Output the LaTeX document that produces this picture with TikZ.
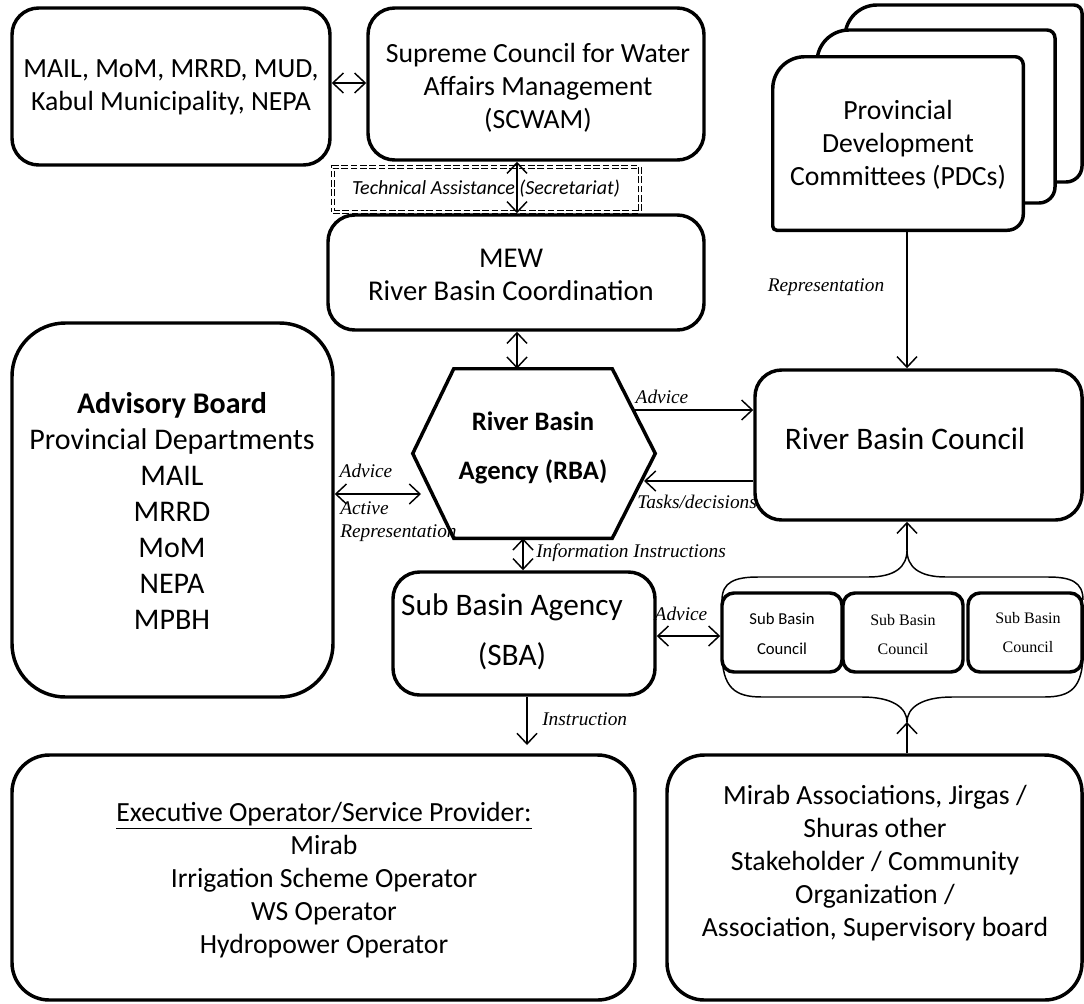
\documentclass[tikz,border=0pt]{standalone}
\usepackage{fontspec}
\setmainfont{Carlito}
\newfontfamily\lserif{Liberation Serif}
\usetikzlibrary{arrows.meta,calc}
\begin{document}
\begin{tikzpicture}[x=0.75pt,y=-0.75pt,
  >={Straight Barb[length=8pt,width=15pt]},
  box/.style={draw, line width=2.6pt, rounded corners=20pt, inner sep=0pt, fill=white},
  card/.style={draw, line width=2.6pt, fill=white},
  txt/.style={align=center, inner sep=0pt, font=\fontsize{20.8}{24.75}\selectfont},
  lbl/.style={font=\lserif\itshape\fontsize{14.5}{17}\selectfont, inner sep=0pt},
  conn/.style={line width=1.1pt},
  brace/.style={line width=1.1pt}]
\useasboundingbox (0,0) rectangle (1084,1003);

% boxes
\node[box, minimum width=238.5pt, minimum height=117.75pt] (mail) at (171,86.5) {};
\node[box, minimum width=252pt, minimum height=114pt] (scwam) at (536,84) {};
\node[draw, dash pattern=on 5pt off 2pt, double, double distance=1.5pt, line width=0.6pt, minimum width=230.25pt, minimum height=33.75pt, inner sep=0pt] (ta) at (486.5,189.5) {};
\node[box, minimum width=282pt, minimum height=86.25pt] (mew) at (516,272.5) {};
\node[box, rounded corners=40pt, minimum width=240.75pt, minimum height=280.5pt] (adv) at (172.5,510) {};
\node[box, minimum width=245.25pt, minimum height=112.5pt] (rbc) at (918.5,445) {};
\node[box, minimum width=196.5pt, minimum height=92.25pt] (sba) at (524,633.5) {};
\node[box, rounded corners=28pt, minimum width=467.25pt, minimum height=183.75pt] (exec) at (323.5,877.5) {};
\node[box, rounded corners=28pt, minimum width=311.25pt, minimum height=183.75pt] (mirab) at (874.5,877.5) {};

% hexagon
\node[inner sep=0pt, minimum width=181.5pt, minimum height=126.75pt] (rba) at (534,453.5) {};
\draw[line width=2.6pt, line join=miter] (rba.west) -- ($(rba.north west)+(41,0)$) -- ($(rba.north east)+(-43,0)$) -- (rba.east) -- ($(rba.south east)+(-43,0)$) -- ($(rba.south west)+(41,0)$) -- cycle;

% PDC stacked cards
\foreach \a/\b/\c/\d in {845/5/1082/182, 817/30/1055/203}
  \draw[card] (\a,\d) [rounded corners=24pt] -- (\a,\b) [rounded corners=6pt] -- (\c,\b) [rounded corners=12pt] -- (\c,\d) [rounded corners=3pt] -- cycle;
\node[inner sep=0pt, minimum width=187.5pt, minimum height=129.75pt] (pdc) at (898,143.5) {};
\draw[card] (pdc.south west) [rounded corners=24pt] -- (pdc.north west) [rounded corners=6pt] -- (pdc.north east) [rounded corners=12pt] -- (pdc.south east) [rounded corners=3pt] -- cycle;

% sub basin councils
\node[box, rounded corners=9pt, minimum width=90pt, minimum height=59.25pt] (sbc1) at (782,632.5) {};
\node[box, rounded corners=9pt, minimum width=90pt, minimum height=59.25pt] (sbc2) at (903,632.5) {};
\node[box, rounded corners=9pt, minimum width=85.5pt, minimum height=59.25pt] (sbc3) at (1025,632.5) {};

% texts
\node[txt] (mailt) at (171,87) {MAIL, MoM, MRRD, MUD,\\Kabul Municipality, NEPA};
\node[txt] (scwamt) at (538,88) {Supreme Council for Water\\Affairs Management\\(SCWAM)};
\node[font=\itshape\fontsize{15}{18}\selectfont, inner sep=0pt] (tat) at (486,189) {Technical Assistance (Secretariat)};
\node[txt, font=\fontsize{21.5}{24.75}\selectfont] (mewt) at (511,274.5) {MEW\\River Basin Coordination};
\node[txt, font=\bfseries\fontsize{20}{36.75}\selectfont] (rbat) at (533,447.5) {River Basin\\Agency (RBA)};
\node[txt, font=\fontsize{22.5}{27}\selectfont] (advt) at (172,511) {\textbf{Advisory Board}\\Provincial Departments\\MAIL\\MRRD\\MoM\\NEPA\\MPBH};
\node[txt, font=\fontsize{23.5}{28}\selectfont] (rbct) at (905,439) {River Basin Council};
\node[txt] (pdct) at (898,145) {Provincial\\Development\\Committees (PDCs)};
\node[txt, font=\fontsize{23.5}{37.5}\selectfont] (sbat) at (512,632) {Sub Basin Agency\\(SBA)};
\node[txt] (exect) at (324,880.5) {\underline{Executive Operator/Service Provider:}\\Mirab\\Irrigation Scheme Operator\\WS Operator\\Hydropower Operator};
\node[txt] (mirabt) at (875,863) {Mirab Associations, Jirgas /\\Shuras other\\Stakeholder / Community\\Organization /\\Association, Supervisory board};
\node[txt, font=\fontsize{12.5}{22.5}\selectfont] (sbc1t) at (782,634) {Sub Basin\\Council};
\node[txt, font=\lserif\fontsize{12}{22}\selectfont] (sbc2t) at (903,634.5) {Sub Basin\\Council};
\node[txt, font=\lserif\fontsize{12}{22}\selectfont] (sbc3t) at (1028,632.5) {Sub Basin\\Council};

% named coordinates
\coordinate (rbaL) at (421,494);
\coordinate (rbaA) at (634,410);
\coordinate (rbaT) at (644,481);
\coordinate (execT) at (527,745);
\coordinate (braceTop) at (907,550);
\coordinate (braceBot) at (907,722);

% braces
\draw[brace] (722,600) .. controls (722,582) and (735,577) .. (758,577) -- (868,577) .. controls (895,577) and (907,567) .. (braceTop)
  .. controls (907,567) and (919,577) .. (946,577) -- (1048,577) .. controls (1071,577) and (1083,582) .. (1083,600);
\draw[brace] (722,652) .. controls (722,688) and (735,697) .. (762,697) -- (862,697) .. controls (893,697) and (907,708) .. (braceBot)
  .. controls (907,708) and (921,697) .. (952,697) -- (1044,697) .. controls (1071,697) and (1083,688) .. (1083,652);

% connectors
\draw[conn,<->] (mail.east |- 0,83) -- (scwam.west |- 0,83);
\draw[conn,<->] (scwam.south -| 517,0) -- (mew.north -| 517,0);
\draw[conn,<->] (mew.south -| 517,0) -- (rba.north -| 517,0);
\draw[conn,<->] (adv.east |- rbaL) -- (rbaL);
\draw[conn,->] (rbaA) -- (rbc.west |- rbaA);
\draw[conn,->] (rbc.west |- rbaT) -- (rbaT);
\draw[conn,->] (pdc.south -| 907,0) -- (rbc.north -| 907,0);
\draw[conn,<->] (rba.south -| 523,0) -- (sba.north -| 523,0);
\draw[conn,<->] (sba.east |- 0,636) -- (sbc1.west |- 0,636);
\draw[conn,->] (sba.south -| execT) -- (execT);
\draw[conn,->] (braceTop) -- (rbc.south -| braceTop);
\draw[conn,->] (mirab.north -| braceBot) -- (braceBot);

% labels
\node[lbl] (l1) at (366,471) {Advice};
\node[lbl, anchor=west, align=left, font=\lserif\itshape\fontsize{14.5}{17.5}\selectfont] (l2) at (340,521.5) {Active\\Representation};
\node[lbl] (l3) at (662,397) {Advice};
\node[lbl, anchor=west] (l4) at (637,502) {Tasks/decisions};
\node[lbl] (l5) at (826,287) {Representation};
\node[lbl, anchor=west] (l6) at (536,553) {Information Instructions};
\node[lbl] (l7) at (681,614) {Advice};
\node[lbl, anchor=west] (l8) at (542,719) {Instruction};
\end{tikzpicture}
\end{document}
